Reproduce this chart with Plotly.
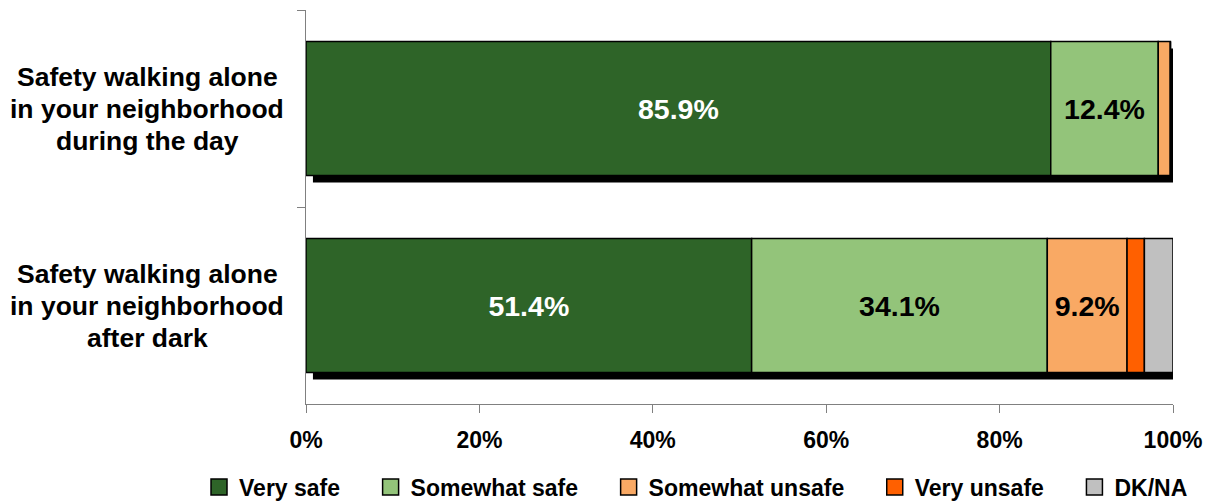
import numpy as np
import plotly.graph_objects as go

category_lines = [
    ["Safety walking alone", "in your neighborhood", "during the day"],
    ["Safety walking alone", "in your neighborhood", "after dark"],
]
series_names = ["Very safe", "Somewhat safe", "Somewhat unsafe", "Very unsafe", "DK/NA"]
very_safe = [85.9, 51.4]
somewhat_safe = [12.4, 34.1]
somewhat_unsafe = [1.4, 9.2]
very_unsafe = [0.0, 2.0]
dk_na = [0.0, 3.3]
colors = ["#2E6428", "#93C47A", "#F9A964", "#FF6000", "#C0C0C0"]
text_colors = ["white", "black", "black", "black", "black"]
x_ticks = [0, 20, 40, 60, 80, 100]

series = [very_safe, somewhat_safe, somewhat_unsafe, very_unsafe, dk_na]
vals = np.array(series)
bases = np.vstack([np.zeros(len(category_lines)), np.cumsum(vals, axis=0)[:-1]])
totals = vals.sum(axis=0)
ypos = list(range(len(category_lines)))

FONT = "Liberation Sans, Arial, sans-serif"
BAR_W = 0.68
PAD = "\u00a0" * 4  # extra spacing between legend entries
fig = go.Figure()

# drop shadow behind each bar
fig.add_trace(go.Bar(
    y=ypos, x=totals, base=0.8, orientation="h",
    width=BAR_W, offset=-BAR_W / 2 + 0.036,
    marker=dict(color="black", line=dict(width=0)),
    showlegend=False, hoverinfo="skip",
))

for i, name in enumerate(series_names):
    v = vals[i]
    fig.add_trace(go.Bar(
        y=ypos, x=v, base=bases[i], orientation="h",
        width=BAR_W, offset=-BAR_W / 2,
        marker=dict(color=colors[i], line=dict(color="black", width=1.5)),
        text=[f"{x:.1f}%" if x >= 5 else "" for x in v],
        textposition="inside", insidetextanchor="middle", textangle=0,
        constraintext="none",
        textfont=dict(family=FONT, size=28.5, color=text_colors[i], weight="bold"),
        showlegend=False, name=name,
    ))

for i, name in enumerate(series_names):
    fig.add_trace(go.Scatter(
        x=[None], y=[None], mode="markers",
        name=name + (PAD if i < len(series_names) - 1 else ""),
        marker=dict(symbol="square", size=17, color=colors[i],
                    line=dict(color="black", width=1.5)),
    ))

for j, lines in enumerate(category_lines):
    for k, line in enumerate(lines):
        fig.add_annotation(
            x=-0.183, xref="paper", y=j, yref="y", text=f"<b>{line}</b>",
            yshift=(1 - k) * 32,
            showarrow=False, align="center", xanchor="center", yanchor="middle",
            font=dict(family=FONT, size=26.5, color="black"),
        )

W, H = 1207, 493
fig.update_layout(
    width=W, height=H,
    margin=dict(l=298, r=42, t=2, b=97, autoexpand=False),
    plot_bgcolor="white", paper_bgcolor="white",
    barmode="overlay", bargap=0.32,
    font=dict(family=FONT, color="black"),
    legend=dict(
        orientation="h", xref="paper", x=-0.1234, xanchor="left",
        yref="paper", y=-0.2107, yanchor="middle",
        font=dict(family=FONT, size=23, color="black", weight="bold"),
        itemwidth=30, traceorder="normal",
    ),
)
fig.update_xaxes(
    range=[0, 100], tickvals=x_ticks, ticktext=[f"{t}%" for t in x_ticks],
    ticks="outside", ticklen=8, tickcolor="#808080",
    showline=True, linecolor="#808080", linewidth=1,
    showgrid=False, zeroline=False, automargin=False,
    tickfont=dict(family=FONT, size=23, color="black", weight="bold"),
    ticklabelstandoff=7,
)
fig.update_yaxes(
    range=[1.5, -0.5], showticklabels=False, ticks="",
    showline=True, linecolor="#808080", automargin=False,
    linewidth=1, showgrid=False, zeroline=False,
)
# boundary ticks on the category axis (Excel style)
fig.update_layout(yaxis2=dict(
    overlaying="y", type="category", categoryarray=["a", "b"],
    tickson="boundaries", ticks="outside", ticklen=8, tickcolor="#808080",
    showticklabels=False, showline=False, showgrid=False, zeroline=False,
    range=[1.5, -0.5], automargin=False,
))
fig.add_trace(go.Scatter(x=[None, None], y=["a", "b"], yaxis="y2",
                         showlegend=False, hoverinfo="skip", mode="markers"))

fig.write_html("out.html")
